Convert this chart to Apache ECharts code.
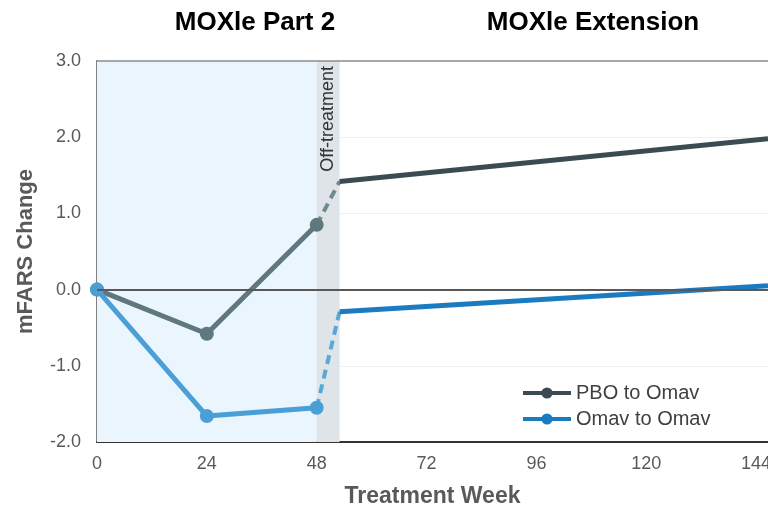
<!DOCTYPE html>
<html>
<head>
<meta charset="utf-8">
<script src="https://cdn.jsdelivr.net/npm/echarts@6/dist/echarts.min.js"></script>
<style>
  html, body { margin: 0; padding: 0; background: #fff; }
  #chart { width: 768px; height: 512px; }
</style>
</head>
<body>
<div id="chart"></div>
<script>
// data
var xTicks = [0, 24, 48, 72, 96, 120, 144];
var partWeeks = [0, 24, 48];
var pboPart = [0, -0.58, 0.85];
var omavPart = [0, -1.66, -1.55];
var offWeek = 53;
var endWeek = 146.6;
var pboExt = [1.42, 1.98];   // at offWeek, endWeek
var omavExt = [-0.29, 0.05];

var font = 'Liberation Sans, Arial, sans-serif';

function pairs(xs, ys) {
  return xs.map(function (x, i) { return [x, ys[i]]; });
}

var chart = echarts.init(document.getElementById('chart'));

var option = {
  animation: false,
  textStyle: { fontFamily: font },
  title: [
    { text: 'MOXle Part 2', left: 250, top: 5, textAlign: 'center',
      textStyle: { fontSize: 26, fontWeight: 'bold', color: '#000', fontFamily: font } },
    { text: 'MOXle Extension', left: 588, top: 5, textAlign: 'center',
      textStyle: { fontSize: 26, fontWeight: 'bold', color: '#000', fontFamily: font } }
  ],
  grid: { left: 97, right: 0, top: 61, bottom: 70, outerBoundsMode: 'none', containLabel: false },
  legend: {
    orient: 'vertical', left: 516, top: 378, itemWidth: 48, itemHeight: 14, itemGap: 6,
    textStyle: { fontSize: 20, color: '#404040', fontFamily: font },
    data: [
      { name: 'PBO to Omav', itemStyle: { color: '#3b4b51' }, lineStyle: { color: '#3b4b51', width: 4 } },
      { name: 'Omav to Omav', itemStyle: { color: '#1b7bc0' }, lineStyle: { color: '#1b7bc0', width: 4 } }
    ]
  },
  xAxis: {
    type: 'value', min: 0, max: endWeek, interval: 24,
    name: 'Treatment Week', nameLocation: 'middle', nameGap: 43,
    nameTextStyle: { fontSize: 23, fontWeight: 'bold', color: '#595959' },
    axisLine: { show: true, onZero: false, lineStyle: { color: '#333', width: 2 } },
    axisTick: { show: false },
    splitLine: { show: false },
    axisLabel: {
      fontSize: 18, color: '#595959', margin: 13, showMaxLabel: false,
      formatter: function (v) { return xTicks.indexOf(v) >= 0 ? String(v) : ''; }
    }
  },
  yAxis: {
    type: 'value', min: -2, max: 3, interval: 1,
    name: 'mFARS Change', nameLocation: 'middle', nameGap: 60,
    nameTextStyle: { fontSize: 22, fontWeight: 'bold', color: '#595959' },
    axisLine: { show: true, lineStyle: { color: '#808080', width: 2 } },
    axisTick: { show: false },
    splitLine: { lineStyle: { color: '#efefef', width: 1 } },
    axisLabel: { fontSize: 18, color: '#595959', margin: 16,
      formatter: function (v) { return v.toFixed(1); } }
  },
  series: [
    {
      name: 'bands', type: 'line', data: [], z: 0, silent: true,
      markArea: {
        silent: true,
        data: [
          [{ xAxis: 0, itemStyle: { color: '#eaf5fd' } }, { xAxis: 48 }],
          [{ xAxis: 48, itemStyle: { color: '#dfe4e8' } }, { xAxis: offWeek }]
        ]
      },
      markLine: {
        silent: true, symbol: 'none', label: { show: false },
        data: [
          { yAxis: 0, lineStyle: { color: '#595959', width: 2, type: 'solid' } },
          { yAxis: 3, lineStyle: { color: '#8c8c8c', width: 1.5, type: 'solid' } }
        ]
      }
    },
    {
      name: 'PBO to Omav', type: 'line', z: 3,
      data: pairs(partWeeks, pboPart),
      symbol: 'circle', symbolSize: 14,
      lineStyle: { color: '#5f7880', width: 5 },
      itemStyle: { color: '#5f7880' }
    },
    {
      name: 'Omav to Omav', type: 'line', z: 3,
      data: pairs(partWeeks, omavPart),
      symbol: 'circle', symbolSize: 14,
      lineStyle: { color: '#4a9fd6', width: 5 },
      itemStyle: { color: '#4a9fd6' }
    },
    {
      name: 'PBO off', type: 'line', z: 2, symbol: 'none',
      data: [[partWeeks[2], pboPart[2]], [offWeek, pboExt[0]]],
      lineStyle: { color: '#6f8a90', width: 4, type: [9, 6] }
    },
    {
      name: 'Omav off', type: 'line', z: 2, symbol: 'none',
      data: [[partWeeks[2], omavPart[2]], [offWeek, omavExt[0]]],
      lineStyle: { color: '#5aa8da', width: 4, type: [9, 6] }
    },
    {
      name: 'PBO ext', type: 'line', z: 2, symbol: 'none',
      data: [[offWeek, pboExt[0]], [endWeek, pboExt[1]]],
      lineStyle: { color: '#3b4b51', width: 5 }
    },
    {
      name: 'Omav ext', type: 'line', z: 2, symbol: 'none',
      data: [[offWeek, omavExt[0]], [endWeek, omavExt[1]]],
      lineStyle: { color: '#1b7bc0', width: 5 }
    }
  ]
};

chart.setOption(option);

// vertical "Off-treatment" label inside the grey band
var p = chart.convertToPixel({ xAxisIndex: 0, yAxisIndex: 0 }, [(48 + offWeek) / 2, 3]);
chart.setOption({
  graphic: [{
    type: 'text', x: p[0], y: p[1] + 5, rotation: Math.PI / 2, z: 10,
    style: { text: 'Off-treatment', fontSize: 18, fill: '#333', fontFamily: font,
      align: 'right', verticalAlign: 'middle' }
  }]
});
</script>
</body>
</html>
